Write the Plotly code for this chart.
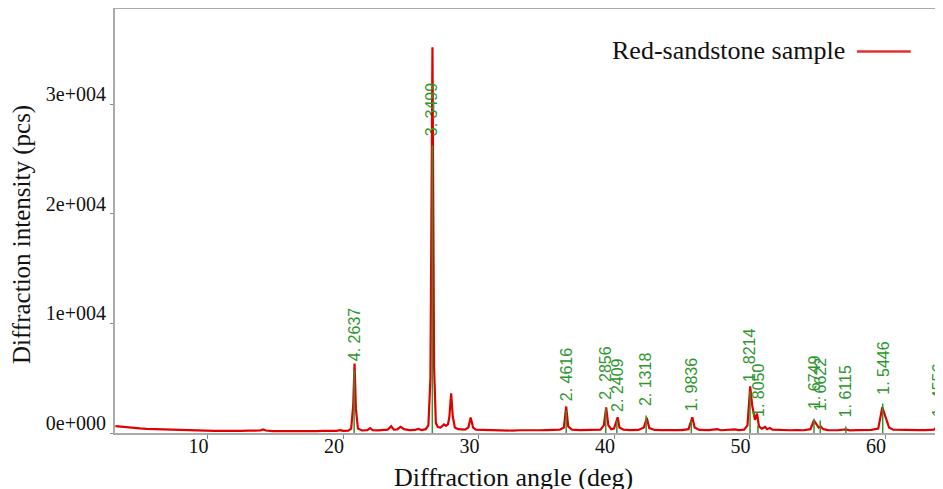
import plotly.graph_objects as go

# ---- Data ----
two_theta = [3.2, 3.6, 4.0, 4.5, 5.0, 5.5, 6.0, 6.5, 7.0, 7.5, 8.0, 8.5, 9.0, 9.5, 10.0, 10.5, 11.0, 11.5,
             12.0, 12.5, 13.0, 13.5, 13.9, 14.1, 14.3, 14.8, 15.3, 15.6, 15.9, 16.5, 17.0, 17.5, 18.0, 18.5,
             19.0, 19.5, 19.8, 20.0, 20.4, 20.6, 20.75, 20.85, 20.95, 21.1, 21.4, 21.8, 22.0, 22.2, 22.6,
             23.0, 23.3, 23.55, 23.75, 24.0, 24.25, 24.5, 24.9, 25.3, 25.55, 25.8, 26.1, 26.3, 26.45, 26.6,
             26.72, 26.85, 27.0, 27.2, 27.45, 27.6, 27.75, 27.85, 27.98, 28.1, 28.25, 28.5, 29.0, 29.25,
             29.42, 29.6, 29.8, 30.3, 31.0, 31.5, 32.0, 32.5, 33.0, 33.5, 34.0, 34.5, 35.0, 35.5, 36.0,
             36.3, 36.47, 36.62, 36.9, 37.5, 38.0, 38.5, 39.0, 39.25, 39.42, 39.58, 39.8, 40.0, 40.15,
             40.27, 40.4, 40.7, 41.2, 41.8, 42.2, 42.42, 42.6, 43.0, 43.5, 44.0, 44.5, 45.0, 45.5, 45.78,
             45.95, 46.3, 47.0, 47.6, 47.9, 48.5, 48.9, 49.2, 49.6, 49.85, 50.05, 50.2, 50.4, 50.55, 50.7,
             50.9, 51.15, 51.3, 51.5, 51.7, 52.2, 53.0, 53.5, 54.0, 54.5, 54.75, 54.95, 55.1, 55.25, 55.45,
             55.8, 56.5, 57.1, 57.4, 58.0, 58.5, 59.0, 59.5, 59.8, 59.95, 60.1, 60.3, 60.6, 61.2, 62.0,
             62.5, 63.0, 63.6, 63.85, 64.05, 64.3]
intensity = [620, 560, 500, 440, 420, 380, 360, 340, 300, 260, 240, 230, 220, 200, 210, 190, 200, 180,
             200, 190, 210, 200, 230, 320, 230, 180, 170, 230, 160, 170, 180, 170, 180, 190,
             190, 200, 260, 200, 220, 400, 2500, 6350, 2200, 400, 230, 260, 440, 250, 240,
             260, 300, 620, 300, 330, 560, 350, 260, 280, 380, 260, 350, 700, 5000, 35200,
             6000, 900, 550, 500, 780, 650, 800, 1500, 3630, 1500, 500, 350, 300, 500,
             1420, 500, 300, 280, 250, 230, 260, 220, 250, 230, 260, 250, 270, 280, 300,
             500, 2420, 600, 300, 270, 260, 280, 300, 700, 2330, 700, 350, 400, 900,
             1440, 500, 300, 270, 280, 500, 1390, 450, 280, 260, 250, 270, 260, 350, 1440,
             500, 280, 260, 350, 250, 280, 330, 260, 300, 700, 4250, 2500, 1200, 1780, 600,
             400, 550, 350, 450, 300, 260, 250, 260, 250, 350, 1140, 800, 500, 600, 350,
             260, 250, 330, 240, 260, 270, 280, 400, 2360, 1800, 1200, 500, 300, 270, 260,
             270, 260, 300, 590, 350, 280]

peak_angles = [20.82, 26.59, 36.47, 39.39, 40.21, 42.37, 45.70, 50.04, 50.62, 54.76, 55.22, 57.11, 59.83, 63.91]
peak_heights = [5700, 26250, 2050, 2240, 1140, 1600, 1140, 3790, 680, 1320, 1140, 590, 2690, 680]
peak_labels = ["4. 2637", "3. 3499", "2. 4616", "2. 2856", "2. 2409", "2. 1318", "1. 9836",
               "1. 8214", "1. 8050", "1. 6749", "1. 6622", "1. 6115", "1. 5446", "1. 4556"]

y_tick_vals = [0, 10000, 20000, 30000]
y_tick_text = ["0e+000", "1e+004", "2e+004", "3e+004"]
x_tick_vals = [10, 20, 30, 40, 50, 60]

series_name = "Red-sandstone sample"
x_title = "Diffraction angle (deg)"
y_title = "Diffraction intensity (pcs)"

RED = "#e00000"
GREEN = "#2e962e"
SERIF = "Liberation Serif, Times New Roman, serif"

fig = go.Figure()

fig.add_trace(go.Scatter(x=two_theta, y=intensity, mode="lines", name=series_name,
                         line=dict(color=RED, width=2.2), showlegend=False))

stick_x, stick_y = [], []
for a, h in zip(peak_angles, peak_heights):
    stick_x += [a, a, None]
    stick_y += [0, h, None]
fig.add_trace(go.Scatter(x=stick_x, y=stick_y, mode="lines", line=dict(color=GREEN, width=1.5),
                         showlegend=False, hoverinfo="skip"))

for a, h, t in zip(peak_angles, peak_heights, peak_labels):
    fig.add_annotation(x=a, y=h, text=t, showarrow=False, textangle=-90,
                       xanchor="center", yanchor="bottom", yshift=7,
                       font=dict(family="Liberation Sans, Arial, sans-serif", size=16, color=GREEN))

# legend (text with line on the right, as in the reference)
fig.add_annotation(xref="paper", yref="paper", x=0.8843, y=0.902, text=series_name, showarrow=False,
                   xanchor="right", yanchor="middle",
                   font=dict(family=SERIF, size=26, color="#111111"))
fig.add_shape(type="line", xref="paper", yref="paper", x0=0.896, x1=0.961, y0=0.9, y1=0.9,
              line=dict(color="#e03030", width=2.5))

# axis titles
fig.add_annotation(xref="paper", yref="paper", x=0.4807, y=-0.106, text=x_title, showarrow=False,
                   xanchor="center", yanchor="middle", font=dict(family=SERIF, size=26, color="#111111"))
fig.add_annotation(xref="paper", yref="paper", x=-0.1123, y=0.467, text=y_title, showarrow=False,
                   textangle=-90, xanchor="center", yanchor="middle",
                   font=dict(family=SERIF, size=25, color="#111111"))

fig.update_layout(
    width=935, height=481,
    margin=dict(l=107, r=0, t=1, b=56),
    paper_bgcolor="white", plot_bgcolor="white",
    xaxis=dict(range=[3.17, 64.28], tickvals=x_tick_vals, showgrid=False, zeroline=False,
               showline=True, linecolor="#aaaaaa", linewidth=2, mirror=True,
               ticks="outside", ticklen=4, tickcolor="#888888", automargin=False,
               ticklabelshift=-9, ticklabelstandoff=-10,
               tickfont=dict(family=SERIF, size=20, color="#111111")),
    yaxis=dict(range=[0, 38700], tickvals=y_tick_vals, ticktext=y_tick_text, showgrid=False,
               zeroline=False, showline=True, linecolor="#aaaaaa", linewidth=2, mirror=False,
               ticks="outside", ticklen=3, tickcolor="#888888", automargin=False,
               ticklabelshift=-10, ticklabelstandoff=0,
               tickfont=dict(family=SERIF, size=20, color="#111111")),
)

fig.write_html("out.html")
